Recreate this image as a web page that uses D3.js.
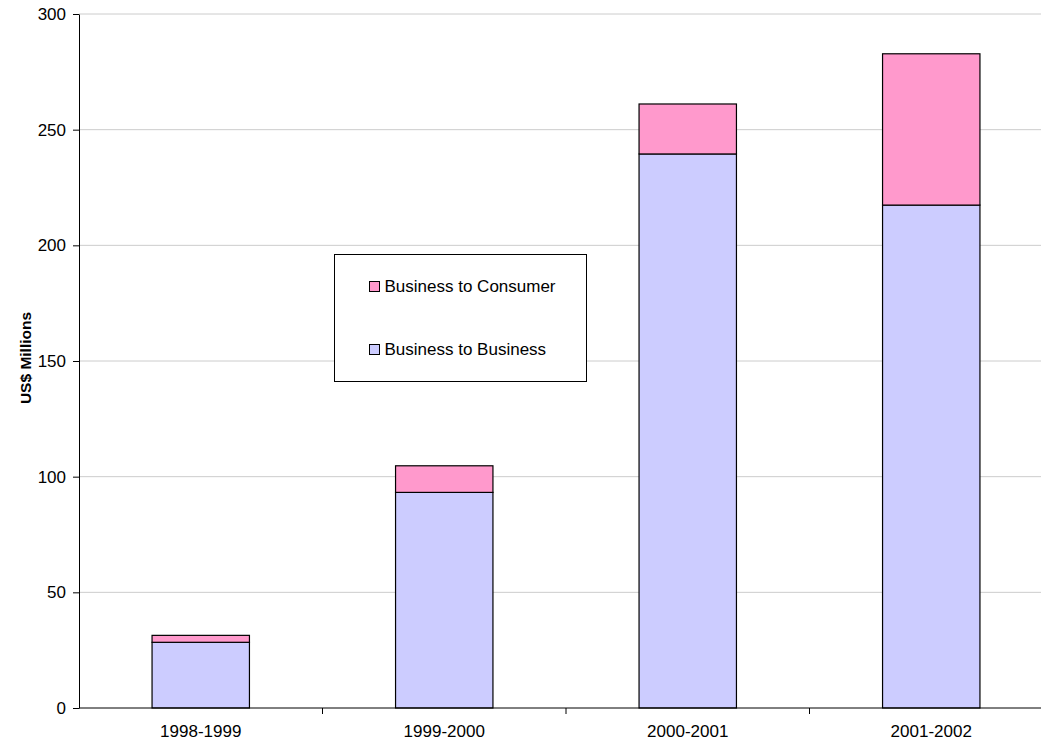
<!DOCTYPE html>
<html>
<head>
<meta charset="utf-8">
<script src="https://cdn.jsdelivr.net/npm/d3@7"></script>
<style>
  body { margin: 0; background: #fff; }
  text { font-family: "Liberation Sans", Arial, sans-serif; }
</style>
</head>
<body>
<div id="chart"></div>
<script>
// Data
var years = ["1998-1999", "1999-2000", "2000-2001", "2001-2002"];
var b2b = [28.4, 93.2, 239.5, 217.4];
var b2c = [3.0, 11.5, 21.6, 65.4];
var yTicks = [0, 50, 100, 150, 200, 250, 300];
var seriesNames = ["Business to Consumer", "Business to Business"];
var seriesColors = ["#FF99CC", "#CCCCFF"];

// Plot edges (note: "top" is reserved on window, so use a margin object)
var W = 1041, H = 742;
var plot = {left: 79, right: 1053, top: 14, bottom: 708};

var svg = d3.select("#chart").append("svg")
    .attr("width", W)
    .attr("height", H);

var x = d3.scaleBand()
    .domain(years)
    .range([plot.left, plot.right])
    .padding(0);

var y = d3.scaleLinear()
    .domain([0, 300])
    .range([plot.bottom, plot.top]);

// Gridlines
svg.append("g")
    .selectAll("line")
    .data(yTicks.filter(function(d) { return d > 0; }))
  .enter().append("line")
    .attr("x1", plot.left)
    .attr("x2", plot.right)
    .attr("y1", function(d) { return y(d); })
    .attr("y2", function(d) { return y(d); })
    .attr("stroke", "#cccccc")
    .attr("stroke-width", 1);

// Stack the two series
var rows = years.map(function(d, i) { return {year: d, b2b: b2b[i], b2c: b2c[i]}; });
var stack = d3.stack().keys(["b2b", "b2c"])(rows);
var fills = {b2b: "#CCCCFF", b2c: "#FF99CC"};

var barW = x.bandwidth() * 0.4;
stack.forEach(function(layer) {
  svg.append("g")
      .selectAll("rect")
      .data(layer)
    .enter().append("rect")
      .attr("x", function(d) { return x(d.data.year) + (x.bandwidth() - barW) / 2; })
      .attr("width", barW)
      .attr("y", function(d) { return y(d[1]); })
      .attr("height", function(d) { return y(d[0]) - y(d[1]); })
      .attr("fill", fills[layer.key])
      .attr("stroke", "#000")
      .attr("stroke-width", 1.2);
});

// Y axis
var yAxis = svg.append("g")
    .attr("transform", "translate(" + plot.left + ",0)")
    .call(d3.axisLeft(y).tickValues(yTicks).tickSize(6).tickPadding(7).tickSizeOuter(0));
yAxis.select(".domain").attr("stroke", "#000");
yAxis.selectAll("text").style("font-size", "17px").attr("fill", "#000");

// X axis (ticks between categories)
var xAxis = svg.append("g")
    .attr("transform", "translate(0," + plot.bottom + ")");
xAxis.append("line")
    .attr("x1", plot.left).attr("x2", plot.right)
    .attr("stroke", "#000");
xAxis.selectAll(".tk")
    .data(years.slice(1))
  .enter().append("line")
    .attr("x1", function(d) { return x(d); })
    .attr("x2", function(d) { return x(d); })
    .attr("y1", 0).attr("y2", 6)
    .attr("stroke", "#000");
xAxis.selectAll(".lbl")
    .data(years)
  .enter().append("text")
    .attr("x", function(d) { return x(d) + x.bandwidth() / 2; })
    .attr("y", 29)
    .attr("text-anchor", "middle")
    .style("font-size", "17px")
    .text(function(d) { return d; });

// Y axis title
svg.append("text")
    .attr("transform", "translate(31,358) rotate(-90)")
    .attr("text-anchor", "middle")
    .style("font-size", "15.5px")
    .style("font-weight", "bold")
    .text("US$ Millions");

// Legend
var legend = svg.append("g").attr("transform", "translate(334.5,254.5)");
legend.append("rect")
    .attr("width", 252)
    .attr("height", 127)
    .attr("fill", "#fff")
    .attr("stroke", "#000");
var items = legend.selectAll(".item")
    .data(seriesNames)
  .enter().append("g")
    .attr("transform", function(d, i) { return "translate(35," + (27 + i * 63) + ")"; });
items.append("rect")
    .attr("width", 10)
    .attr("height", 10)
    .attr("fill", function(d, i) { return seriesColors[i]; })
    .attr("stroke", "#000");
items.append("text")
    .attr("x", 15)
    .attr("y", 10.5)
    .style("font-size", "17px")
    .text(function(d) { return d; });
</script>
</body>
</html>
